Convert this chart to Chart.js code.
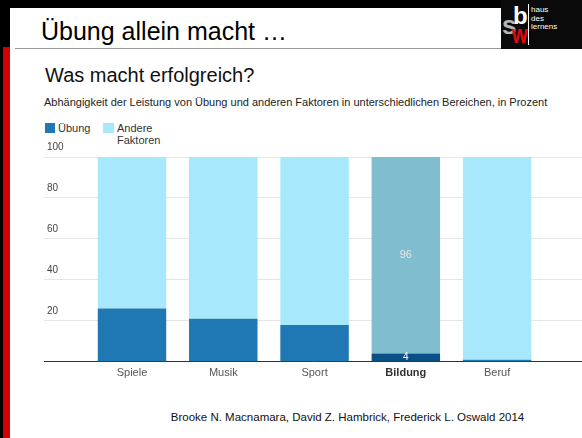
<!DOCTYPE html>
<html lang="de">
<head>
<meta charset="UTF-8">
<title>Übung allein macht …</title>
<script src="https://cdn.jsdelivr.net/npm/chart.js"></script>
<style>
    body {
        margin: 0;
        width: 582px;
        height: 438px;
        position: relative;
        overflow: hidden;
        background: #fff;
        font-family: "Liberation Sans", Arial, sans-serif;
    }
    .abs { position: absolute; white-space: nowrap; }
    #topband { left: 0; top: 0; width: 582px; height: 8px; background: #000; }
    #leftblack { left: 0; top: 0; width: 10px; height: 47px; background: #000; }
    #leftthin { left: 0; top: 47px; width: 3px; height: 391px; background: #000; }
    #leftred { left: 3px; top: 47px; width: 7px; height: 391px; background: #d40000; }
    #rule { left: 15px; top: 48px; width: 486px; height: 1px; background: #9a9a9a; }
    #slidetitle { left: 41px; top: 19px; font-size: 25px; line-height: 25px; color: #000; }
    #logo { left: 501px; top: 0; width: 81px; height: 49px; background: #0a0a0a; overflow: hidden; }
    #logo span { position: absolute; font-weight: bold; line-height: 1; }
    #title { left: 45px; top: 65px; font-size: 20px; line-height: 20px; color: #111; }
    #subtitle { left: 44px; top: 97px; font-size: 11px; line-height: 11px; color: #222; }
    .key { position: absolute; width: 10px; height: 10px; }
    .keytext { font-size: 11px; line-height: 12px; color: #333; }
    #source { left: 0; width: 695px; top: 412px; text-align: center; font-size: 11.5px; line-height: 11.5px; color: #111; }
    #wrap { position: absolute; left: 0; top: 140px; width: 582px; height: 252px; }
</style>
</head>
<body>
<div class="abs" id="topband"></div>
<div class="abs" id="leftblack"></div>
<div class="abs" id="leftthin"></div>
<div class="abs" id="leftred"></div>
<div class="abs" id="rule"></div>
<div class="abs" id="slidetitle">Übung allein macht …</div>
<div class="abs" id="logo">
    <span style="left:1px;top:12px;font-size:26px;color:#b4b4b4;">s</span>
    <span style="left:12px;top:4px;font-size:24px;color:#fff;">b</span>
    <span style="left:11px;top:21px;font-size:20px;color:#e30613;transform:scaleY(1.3);transform-origin:top;">w</span>
    <span style="left:27px;top:4px;width:1px;height:41px;background:#fff;"></span>
    <span style="left:30px;top:6px;font-size:8px;line-height:8.5px;color:#fff;font-weight:normal;">haus<br>des<br>lernens</span>
</div>

<div class="abs" id="title">Was macht erfolgreich?</div>
<div class="abs" id="subtitle">Abhängigkeit der Leistung von Übung und anderen Faktoren in unterschiedlichen Bereichen, in Prozent</div>

<div class="key" id="key0" style="left:45px;top:123px;"></div>
<div class="abs keytext" style="left:58px;top:122px;">Übung</div>
<div class="key" id="key1" style="left:103px;top:123px;width:11px;"></div>
<div class="abs keytext" style="left:117px;top:122px;">Andere<br>Faktoren</div>

<div id="wrap"><canvas id="chartCanvas"></canvas></div>

<div class="abs" id="source">Brooke N. Macnamara, David Z. Hambrick, Frederick L. Oswald 2014</div>

<script>
    // Daten
    const categories = ['Spiele', 'Musik', 'Sport', 'Bildung', 'Beruf'];
    const uebung = [26, 21, 18, 4, 1];
    const andere = [74, 79, 82, 96, 99];
    const yTicks = [0, 20, 40, 60, 80, 100];
    const highlight = 3; // Bildung ist hervorgehoben

    const colUebung = '#1f77b4';
    const colAndere = '#a8e8fc';
    const colUebungHi = '#0b4f87';
    const colAndereHi = '#80bdce';

    document.getElementById('key0').style.background = colUebung;
    document.getElementById('key1').style.background = colAndere;

    const fontFamily = '"Liberation Sans", Arial, sans-serif';

    // Werte in den hervorgehobenen Balken schreiben
    const valueLabels = {
        id: 'valueLabels',
        afterDatasetsDraw(chart) {
            const c = chart.ctx;
            c.save();
            c.textAlign = 'center';
            c.textBaseline = 'middle';
            chart.data.datasets.forEach((ds, di) => {
                const bar = chart.getDatasetMeta(di).data[highlight];
                if (!bar) return;
                const p = bar.getCenterPoint();
                c.font = (di === 0 ? '10px ' : '11px ') + fontFamily;
                c.fillStyle = di === 0 ? '#ffffff' : '#e4e4e4';
                c.fillText(String(ds.rawValues[highlight]), p.x, p.y);
            });
            c.restore();
        }
    };

    const ctx = document.getElementById('chartCanvas').getContext('2d');
    const chart = new Chart(ctx, {
        type: 'bar',
        data: {
            datasets: [{
                label: 'Übung',
                rawValues: uebung,
                data: uebung.map((v, i) => ({ x: i, y: v })),
                backgroundColor: categories.map((c, i) => i === highlight ? colUebungHi : colUebung)
            }, {
                label: 'Andere Faktoren',
                rawValues: andere,
                data: andere.map((v, i) => ({ x: i, y: v })),
                backgroundColor: categories.map((c, i) => i === highlight ? colAndereHi : colAndere)
            }]
        },
        options: {
            responsive: true,
            maintainAspectRatio: false,
            animation: false,
            datasets: {
                bar: { barPercentage: 1, categoryPercentage: 0.75 }
            },
            layout: { padding: { left: 38, right: 0, top: 17, bottom: 7 } },
            plugins: {
                legend: { display: false },
                tooltip: { enabled: false }
            },
            scales: {
                x: {
                    type: 'linear',
                    stacked: true,
                    offset: false,
                    min: -0.964,
                    max: 4.93,
                    grid: { display: false, drawTicks: false },
                    border: { display: true, color: '#333', width: 1 },
                    ticks: {
                        stepSize: 1,
                        includeBounds: false,
                        autoSkip: false,
                        maxRotation: 0,
                        padding: 5,
                        color: ctx => ctx.tick && ctx.tick.value === highlight ? '#333' : '#555',
                        font: ctx => ({
                            family: fontFamily,
                            size: 11,
                            weight: ctx.tick && ctx.tick.value === highlight ? 'bold' : 'normal'
                        }),
                        callback: v => categories[v] !== undefined ? categories[v] : ''
                    }
                },
                y: {
                    stacked: true,
                    min: 0,
                    max: 100,
                    afterBuildTicks: axis => { axis.ticks = yTicks.map(v => ({ value: v })); },
                    grid: { color: '#e6e6e6', drawTicks: false },
                    border: { display: false },
                    ticks: {
                        mirror: true,
                        padding: 3,
                        labelOffset: -9.5,
                        color: '#444',
                        font: { family: fontFamily, size: 10 },
                        callback: v => v === 0 ? '' : v
                    }
                }
            }
        },
        plugins: [valueLabels]
    });
</script>
</body>
</html>
